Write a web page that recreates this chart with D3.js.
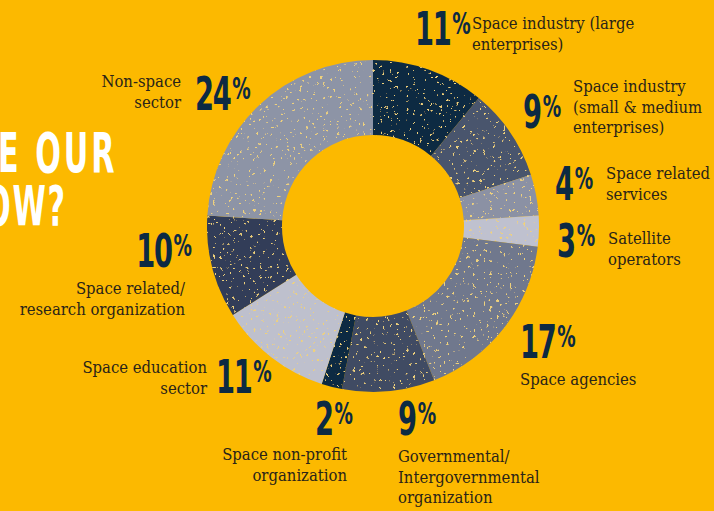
<!DOCTYPE html>
<html>
<head>
<meta charset="utf-8">
<script src="https://cdn.jsdelivr.net/npm/d3@7/dist/d3.min.js"></script>
<style>
  html, body { margin: 0; padding: 0; background: #fcb900; overflow: hidden; }
  .num { font-family: "Liberation Sans Narrow", "DejaVu Sans Condensed", sans-serif; font-weight: bold; fill: #0c2a43; }
  .lbl { font-family: "DejaVu Serif Condensed", "DejaVu Serif", serif; font-stretch: condensed; font-size: 16.5px; fill: #2a2418; }
  .title { font-family: "Liberation Sans Narrow", "DejaVu Sans Condensed", sans-serif; font-weight: bold; fill: #ffffff; }
</style>
</head>
<body>
<div id="chart"></div>
<script>
// slices, clockwise from 12 o'clock
var categories = [
    "Space industry (large enterprises)",
    "Space industry (small & medium enterprises)",
    "Space related services",
    "Satellite operators",
    "Space agencies",
    "Governmental/Intergovernmental organization",
    "Space non-profit organization",
    "Space education sector",
    "Space related/research organization",
    "Non-space sector"
];
var shares = [11, 9, 4, 3, 17, 9, 2, 11, 10, 24];
var labelLines = [
    ["Space industry (large", "enterprises)"],
    ["Space industry", "(small & medium", "enterprises)"],
    ["Space related", "services"],
    ["Satellite", "operators"],
    ["Space agencies"],
    ["Governmental/", "Intergovernmental", "organization"],
    ["Space non-profit", "organization"],
    ["Space education", "sector"],
    ["Space related/", "research organization"],
    ["Non-space", "sector"]
];
var titleLines = ["E OUR", "OW?"];

var sliceColors = ["#0c2a43", "#48546d", "#8b91a4", "#bfc1cf", "#6f788d",
                   "#3f4b64", "#0c2a43", "#bec0cd", "#303e59", "#8d94a6"];

// where each annotation sits: [x, y, anchor] for the number and for the text block
var labelLayout = [
    { num: [415, 45, "start"], txt: [472, 29, "start"] },
    { num: [523, 128, "start"], txt: [573, 92, "start"] },
    { num: [555, 200, "start"], txt: [606, 179, "start"] },
    { num: [557, 257, "start"], txt: [608, 244, "start"] },
    { num: [520, 358, "start"], txt: [520, 385, "start"] },
    { num: [398, 435, "start"], txt: [398, 462, "start"] },
    { num: [353, 435, "end"], txt: [347, 460, "end"] },
    { num: [216, 393, "start"], txt: [207, 373, "end"] },
    { num: [192, 267, "end"], txt: [185, 294, "end"] },
    { num: [195, 110, "start"], txt: [181, 87, "end"] }
];

var width = 714;
var height = 511;
var center = { x: 373, y: 226 };
var outerR = 166;
var innerR = 91;
var lineGap = 20.5;

var svg = d3.select('#chart')
    .append('svg')
    .attr('width', width)
    .attr('height', height);

svg.append('rect')
    .attr('width', width)
    .attr('height', height)
    .attr('fill', '#fcb900');

// speckled print texture on the ring
var defs = svg.append('defs');
var filter = defs.append('filter').attr('id', 'speck');
filter.append('feTurbulence')
    .attr('type', 'fractalNoise')
    .attr('baseFrequency', 0.3)
    .attr('numOctaves', 3)
    .attr('seed', 4)
    .attr('result', 'noise');
filter.append('feColorMatrix')
    .attr('in', 'noise')
    .attr('type', 'matrix')
    .attr('values', '0 0 0 0 0.86  0 0 0 0 0.64  0 0 0 0 0.2  20 0 0 0 -13.8')
    .attr('result', 'dots');
filter.append('feComposite')
    .attr('in', 'dots')
    .attr('in2', 'SourceGraphic')
    .attr('operator', 'in')
    .attr('result', 'clipped');
var merge = filter.append('feMerge');
merge.append('feMergeNode').attr('in', 'SourceGraphic');
merge.append('feMergeNode').attr('in', 'clipped');

var color = d3.scaleOrdinal()
    .domain(categories)
    .range(sliceColors);

var pie = d3.pie()
    .sort(null)
    .value(function(d, i) { return shares[i]; });

var arc = d3.arc()
    .innerRadius(innerR)
    .outerRadius(outerR);

svg.append('g')
    .attr('transform', 'translate(' + center.x + ',' + center.y + ')')
    .attr('filter', 'url(#speck)')
    .selectAll('path')
    .data(pie(categories))
    .enter()
    .append('path')
    .attr('d', arc)
    .attr('fill', function(d) { return color(d.data); });

// percentages
categories.forEach(function(c, i) {
    var pos = labelLayout[i].num;
    var t = svg.append('text')
        .attr('class', 'num')
        .attr('transform', 'translate(' + pos[0] + ',' + pos[1] + ') scale(0.66,1)')
        .attr('text-anchor', pos[2]);
    t.append('tspan')
        .attr('font-size', 46)
        .attr('letter-spacing', -2)
        .text(shares[i]);
    t.append('tspan')
        .attr('font-size', 31)
        .attr('dx', 3)
        .attr('dy', -11)
        .text('%');
});

// category names
labelLines.forEach(function(lines, i) {
    var pos = labelLayout[i].txt;
    var t = svg.append('text')
        .attr('class', 'lbl')
        .attr('text-anchor', pos[2]);
    lines.forEach(function(line, k) {
        t.append('tspan')
            .attr('x', pos[0])
            .attr('y', pos[1] + k * lineGap)
            .text(line);
    });
});

// cut-off heading on the left
svg.append('text')
    .attr('class', 'title')
    .attr('font-size', 56)
    .attr('letter-spacing', 5)
    .attr('transform', 'translate(-2,172) scale(0.6,1)')
    .text(titleLines[0]);
svg.append('text')
    .attr('class', 'title')
    .attr('font-size', 56)
    .attr('letter-spacing', 3)
    .attr('transform', 'translate(-15,225) scale(0.6,1)')
    .text(titleLines[1]);
</script>
</body>
</html>
